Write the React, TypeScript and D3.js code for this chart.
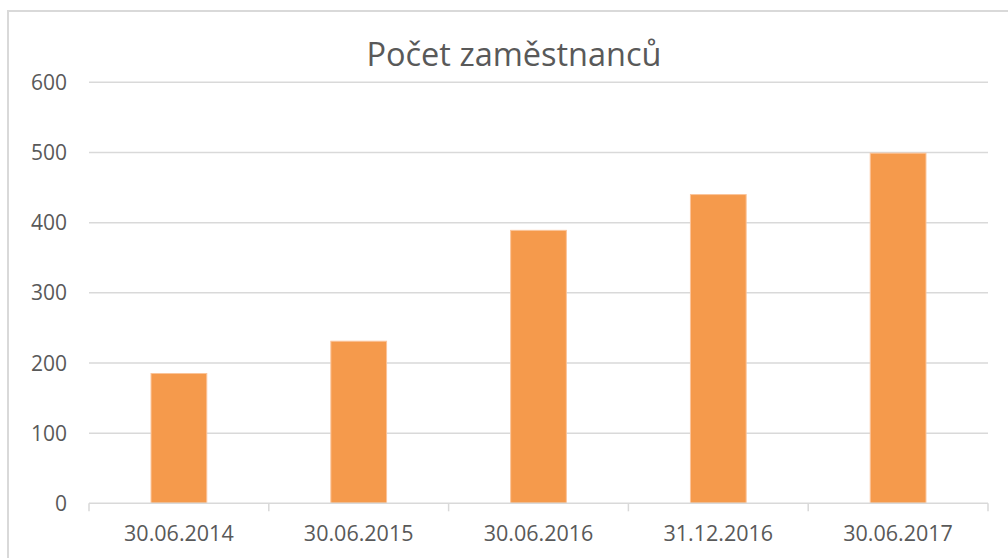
import React, { useEffect, useRef } from "react";
import * as d3 from "d3";

const categories = ["30.06.2014", "30.06.2015", "30.06.2016", "31.12.2016", "30.06.2017"];
const values = [185, 231, 389, 440, 499];
const yTicks = [0, 100, 200, 300, 400, 500, 600];
const title = "Počet zaměstnanců";

export default function App() {
  const ref = useRef<SVGSVGElement | null>(null);

  useEffect(() => {
    const svg = d3.select(ref.current as any);
    svg.selectAll("*").remove();
    const width = 1008;
    const height = 558;
    svg.attr("width", width).attr("height", height);

    const font = "'Open Sans', 'Noto Sans', sans-serif";
    const textColor = "#595959";
    const gridColor = "#d9d9d9";

    // chart area frame (runs off the right/bottom edges)
    svg.append("rect")
      .attr("x", 8).attr("y", 11)
      .attr("width", 1010).attr("height", 560)
      .attr("fill", "#fff")
      .attr("stroke", gridColor)
      .attr("stroke-width", 2);

    const left = 89, right = 988, top = 82.3, bottom = 503.3;

    const x = d3.scaleBand().domain(categories).range([left, right]).padding(0);
    const y = d3.scaleLinear().domain([0, 600]).range([bottom, top]);

    // gridlines
    svg.append("g").selectAll("line")
      .data(yTicks.filter(t => t > 0))
      .enter().append("line")
      .attr("x1", left).attr("x2", right)
      .attr("y1", d => y(d)).attr("y2", d => y(d))
      .attr("stroke", gridColor).attr("stroke-width", 1.5);

    // y labels
    svg.append("g").selectAll("text")
      .data(yTicks)
      .enter().append("text")
      .attr("x", 67)
      .attr("y", d => y(d))
      .attr("dy", "0.36em")
      .attr("text-anchor", "end")
      .attr("fill", textColor)
      .style("font-family", font)
      .style("font-size", "21px")
      .text(d => d);

    // bars
    const barW = x.bandwidth() * 0.31;
    svg.append("g").selectAll("rect")
      .data(values)
      .enter().append("rect")
      .attr("x", (d, i) => (x(categories[i]) || 0) + (x.bandwidth() - barW) / 2)
      .attr("y", d => y(d))
      .attr("width", barW)
      .attr("height", d => bottom - y(d))
      .attr("fill", "#f59a4c")
      .attr("stroke", "#fbc49a")
      .attr("stroke-width", 1);

    // x axis
    const xa = svg.append("g");
    xa.append("line")
      .attr("x1", left).attr("x2", right)
      .attr("y1", bottom).attr("y2", bottom)
      .attr("stroke", gridColor).attr("stroke-width", 1.5);
    const bounds = categories.map(c => x(c) || 0).concat([right]);
    xa.selectAll(".tick")
      .data(bounds)
      .enter().append("line")
      .attr("x1", d => d).attr("x2", d => d)
      .attr("y1", bottom).attr("y2", bottom + 8)
      .attr("stroke", gridColor).attr("stroke-width", 1.5);
    xa.selectAll("text")
      .data(categories)
      .enter().append("text")
      .attr("x", d => (x(d) || 0) + x.bandwidth() / 2)
      .attr("y", 541)
      .attr("text-anchor", "middle")
      .attr("fill", textColor)
      .style("font-family", font)
      .style("font-size", "21.5px")
      .text(d => d);

    // title
    svg.append("text")
      .attr("x", 514)
      .attr("y", 65.5)
      .attr("text-anchor", "middle")
      .attr("fill", textColor)
      .style("font-family", font)
      .style("font-size", "32.5px")
      .text(title);
  }, []);

  return (
    <svg ref={ref as any} style={{ position: "absolute", left: 0, top: 0, display: "block" }} />
  );
}
